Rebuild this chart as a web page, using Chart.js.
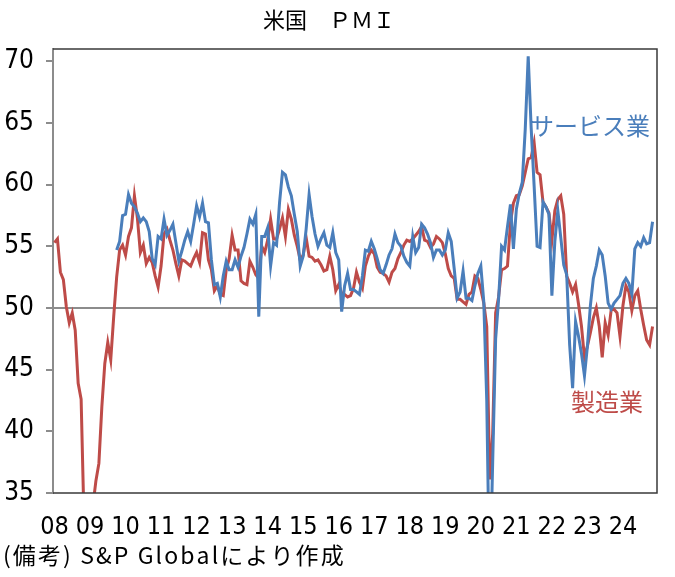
<!DOCTYPE html>
<html>
<head>
<meta charset="utf-8">
<script src="https://cdn.jsdelivr.net/npm/chart.js@4"></script>
<style>
  body { margin: 0; background: #fff; }
  #wrap { width: 675px; height: 577px; }
</style>
</head>
<body>
<div id="wrap"><canvas id="pmiChart" width="675" height="577"></canvas></div>
<script>
const yearLabels = ['08','09','10','11','12','13','14','15','16','17','18','19','20','21','22','23','24'];
const yTicks = [35, 40, 45, 50, 55, 60, 65, 70];

// monthly, Jan 2008 - Dec 2024 (one row per year)
const manufacturing = [
  55.3, 55.6, 52.9, 52.3, 50.1, 48.8, 49.6, 48.2, 43.9, 42.6, 32.5, 31.5,
  32.0, 34.0, 36.0, 37.4, 42.0, 45.5, 47.2, 45.8, 49.3, 52.5, 54.7, 55.1,
  54.3, 55.8, 56.5, 59.1, 57.3, 54.5, 55.1, 53.6, 54.1, 53.7, 52.6, 51.7,
  53.4, 56.0, 56.4, 55.5, 54.7, 53.6, 52.6, 53.9, 53.8, 53.6, 53.4, 54.0,
  54.5, 53.7, 56.1, 56.0, 53.9, 53.1, 51.4, 51.8, 51.1, 51.0, 53.1, 54.0,
  55.9, 54.7, 54.7, 52.2, 52.0, 51.9, 53.8, 53.3, 52.7, 52.4, 55.0, 54.5,
  55.5, 57.2, 55.6, 55.6, 56.4, 57.3, 55.8, 58.0, 57.2, 55.9, 55.0, 53.9,
  54.3, 55.7, 54.2, 54.1, 53.8, 53.9, 53.5, 53.0, 53.1, 54.2, 53.1, 51.4,
  51.9, 51.2, 51.1, 50.9, 51.0, 51.6, 52.9, 52.1, 51.6, 53.4, 54.2, 54.7,
  54.4, 53.3, 52.9, 52.8, 52.6, 52.1, 52.9, 53.2, 54.0, 54.5, 55.1, 55.5,
  55.4, 55.6, 55.9, 56.2, 56.6, 55.5, 55.4, 54.9, 55.2, 55.8, 55.6, 55.3,
  54.4, 53.2, 52.6, 52.4, 50.7, 50.7, 50.5, 50.3, 51.1, 51.3, 52.6, 52.4,
  51.5, 50.4, 48.5, 36.1, 39.8, 49.6, 50.9, 53.1, 53.2, 53.4, 56.9, 58.5,
  59.1, 59.2, 59.9, 61.0, 62.1, 62.2, 63.4, 61.0, 60.8, 58.6, 58.2, 57.7,
  55.5, 57.9, 58.8, 59.1, 57.6, 52.6, 52.0, 51.3, 51.9, 50.3, 48.5, 46.0,
  46.9, 48.0, 49.2, 50.0, 48.5, 46.0, 48.8, 47.8, 49.8, 49.9, 49.6, 47.7,
  50.2, 51.8, 51.3, 49.8, 51.0, 51.4, 49.9, 48.6, 47.4, 47.0, 48.5, null
];

const services = [
  null, null, null, null, null, null, null, null, null, null, null, null,
  null, null, null, null, null, null, null, null, null, 54.7, 55.4, 57.5,
  57.6, 59.2, 58.5, 58.2, 57.7, 57.0, 57.3, 57.0, 56.2, 54.0, 53.5, 55.8,
  55.6, 57.2, 55.9, 56.3, 56.8, 55.3, 53.8, 54.6, 55.5, 56.2, 55.4, 56.8,
  58.3, 57.4, 58.5, 57.0, 56.9, 53.9, 51.9, 52.0, 50.9, 52.6, 53.8, 53.1,
  53.1, 53.9, 53.3, 54.2, 54.9, 56.0, 57.2, 56.8, 57.6, 49.3, 55.8, 55.8,
  56.5, 53.4, 55.3, 55.1, 58.5, 61.0, 60.8, 59.8, 59.1, 57.6, 56.2, 53.4,
  54.2, 56.4, 59.2, 57.4, 56.0, 55.0, 55.6, 56.1, 55.1, 54.9, 56.1, 54.5,
  53.9, 49.7, 51.8, 52.8, 51.5, 51.5, 51.3, 51.1, 52.6, 54.7, 54.6, 55.4,
  54.8, 54.0, 53.1, 52.8, 53.5, 54.3, 54.8, 56.0, 55.3, 55.0, 54.2, 53.7,
  53.4, 55.8, 54.5, 54.9, 56.8, 56.5, 56.0, 55.3, 54.1, 54.7, 54.7, 54.3,
  54.7, 56.1, 55.4, 53.2, 50.8, 51.3, 53.0, 50.8, 50.8, 50.6, 51.8, 52.8,
  53.4, 50.5, 42.5, 27.0, 37.5, 47.5, 50.7, 55.0, 54.7, 56.6, 58.4, 54.8,
  58.0, 59.3, 60.2, 64.5, 70.4, 64.6, 59.9, 55.0, 54.9, 58.6, 58.2, 57.6,
  51.0, 55.4, 57.9, 55.7, 53.5, 52.7, 47.0, 43.5, 48.9, 47.7, 46.3, 44.5,
  46.9, 50.2, 52.4, 53.4, 54.7, 54.3, 52.6, 50.4, 49.9, 50.4, 50.7, 51.0,
  52.0, 52.4, 52.0, 51.1, 54.8, 55.3, 55.0, 55.7, 55.2, 55.3, 57.0, null
];

const BLUE = '#4A7EBB';
const RED = '#BE4B48';
const FONT_NUM = "'Liberation Sans Narrow', 'DejaVu Sans Condensed', 'Noto Sans CJK JP', sans-serif";
const FONT_JP = "'Noto Sans CJK JP', sans-serif";

// one category per month
const months = [];
yearLabels.forEach(y => {
    for (let m = 1; m <= 12; m++) months.push(y + '/' + m);
});

// draw text one glyph at a time with extra spacing
function spacedText(ctx, text, x, y, gap) {
    for (const ch of text) {
        ctx.fillText(ch, x, y);
        x += ctx.measureText(ch).width + gap;
    }
}

const textPlugin = {
    id: 'textPlugin',
    afterDraw(chart) {
        const ctx = chart.ctx;
        const a = chart.chartArea;
        ctx.save();
        // frame
        ctx.strokeStyle = '#3a3a3a';
        ctx.lineWidth = 1.5;
        ctx.beginPath();
        ctx.moveTo(a.left, a.top);
        ctx.lineTo(a.right, a.top);
        ctx.lineTo(a.right, a.bottom);
        ctx.lineTo(a.left, a.bottom);
        ctx.stroke();

        ctx.textBaseline = 'middle';
        ctx.textAlign = 'center';
        ctx.fillStyle = '#000';
        ctx.font = '22px ' + FONT_JP;
        ctx.fillText('米国　ＰＭＩ', 329, 20);

        ctx.textAlign = 'left';
        ctx.font = '23px ' + FONT_JP;
        spacedText(ctx, '(備考) S&P Globalにより作成', 3, 555, 2.1);

        ctx.font = '24px ' + FONT_JP;
        ctx.fillStyle = BLUE;
        ctx.fillText('サービス業', 530, 126);
        ctx.fillStyle = RED;
        ctx.fillText('製造業', 571, 402);
        ctx.restore();
    }
};

const ctx = document.getElementById('pmiChart').getContext('2d');
new Chart(ctx, {
    type: 'line',
    data: {
        labels: months,
        datasets: [{
            label: 'サービス業',
            data: services,
            borderColor: BLUE,
            borderWidth: 3,
            pointRadius: 0,
            tension: 0,
            clip: 0
        }, {
            label: '製造業',
            data: manufacturing,
            borderColor: RED,
            borderWidth: 3,
            pointRadius: 0,
            tension: 0,
            clip: 0
        }]
    },
    options: {
        responsive: false,
        animation: false,
        layout: { padding: { top: 49, right: 18, bottom: 0, left: 0 } },
        plugins: {
            legend: { display: false },
            tooltip: { enabled: false }
        },
        scales: {
            x: {
                type: 'category',
                offset: true,
                grid: { display: false },
                border: { display: false },
                afterFit: s => { s.height = 84; },
                ticks: {
                    autoSkip: false,
                    maxRotation: 0,
                    padding: 11,
                    color: '#000',
                    font: { family: FONT_NUM, size: 25 },
                    callback: (v, i) => i % 12 === 0 ? yearLabels[i / 12] : null
                }
            },
            y: {
                min: 35,
                max: 71,
                afterFit: s => { s.width = 53; },
                afterBuildTicks: s => { s.ticks = yTicks.map(v => ({ value: v })); },
                grid: {
                    drawOnChartArea: true,
                    tickLength: 7,
                    lineWidth: 2,
                    color: c => c.tick && c.tick.value === 50 ? '#8c8c8c' : 'rgba(0,0,0,0)',
                    tickColor: '#8c8c8c'
                },
                border: { color: '#8c8c8c', width: 2 },
                ticks: {
                    padding: 12,
                    color: '#000',
                    font: { family: FONT_NUM, size: 26 }
                }
            }
        }
    },
    plugins: [textPlugin]
});
</script>
</body>
</html>
